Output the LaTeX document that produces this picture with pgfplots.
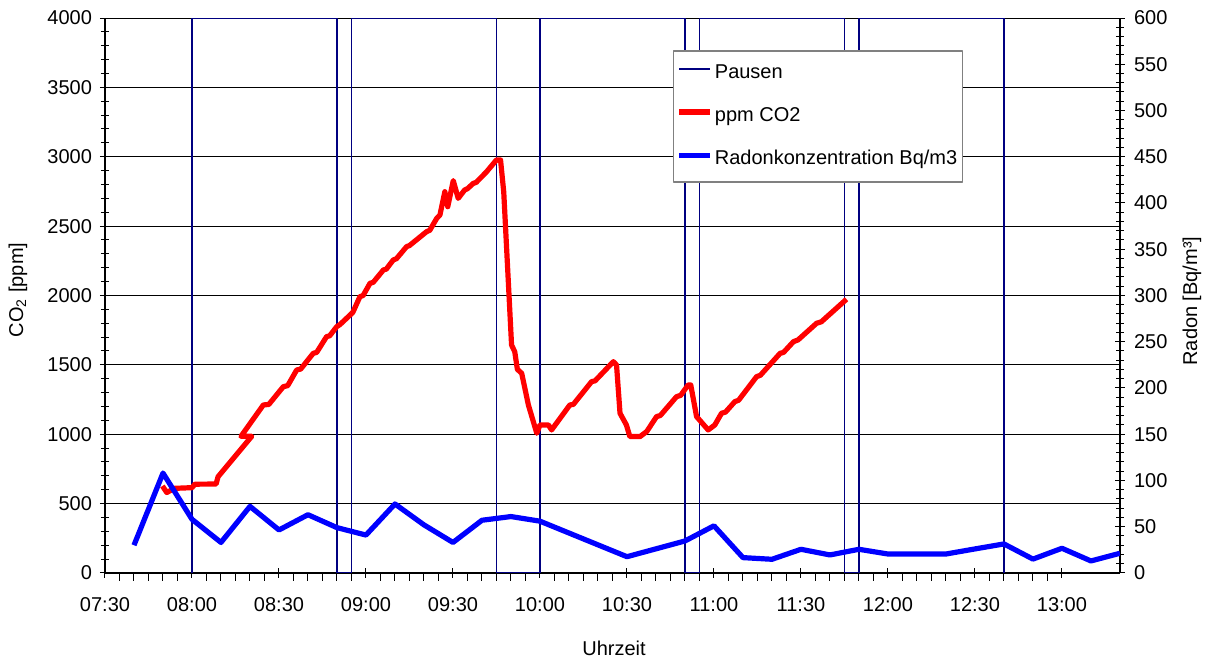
\documentclass[border=0pt]{standalone}
\usepackage{fontspec}
\setmainfont{Liberation Sans}
\usepackage{pgfplots}
\pgfplotsset{compat=1.18}
\definecolor{navy}{RGB}{0,0,128}
\begin{document}
\fontsize{10}{12}\selectfont
\begin{tikzpicture}
\path (-52.5pt,-43.5pt) rectangle (551.5pt,286.5pt);
\begin{axis}[
  at={(0,0)}, anchor=south west,
  scale only axis, width=507.5pt, height=277.5pt,
  xmin=0, xmax=350, ymin=0, ymax=4000,
  axis x line*=bottom, axis y line*=left,
  axis line style={black, line width=0.75pt},
  xtick={0,30,...,330},
  xticklabels={07:30,08:00,08:30,09:00,09:30,10:00,10:30,11:00,11:30,12:00,12:30,13:00},
  minor x tick num=5,
  ytick distance=500, minor y tick num=4,
  ymajorgrids, major grid style={black, line width=0.5pt},
  tick align=center, major tick length=5pt, minor tick length=4pt,
  tick style={black, line width=0.5pt},
  minor x tick style={yshift=-2pt},
  /pgf/number format/assume math mode=true,
  /pgf/number format/1000 sep={},
  yticklabel style={font=\fontsize{10}{12}\selectfont, xshift=-0.5pt},
  xticklabel style={font=\fontsize{10}{12}\selectfont, yshift=-6pt},
  xlabel={Uhrzeit}, ylabel={CO\textsubscript{2} [ppm]},
  xlabel style={at={(axis description cs:0.5015,-0.135)}, anchor=center},
  ylabel style={at={(axis description cs:-0.0857,0.51)}, anchor=center},
  line join=round,
]
\addplot[navy, line width=0.9pt] coordinates {
(30,0)(30,4000)(80,4000)(80,0)(85,0)(85,4000)(135,4000)(135,0)(150,0)(150,4000)
(200,4000)(200,0)(205,0)(205,4000)(255,4000)(255,0)(260,0)(260,4000)(310,4000)(310,0)};
\addplot[red, line width=2.6pt] coordinates {
(19.8,627)(21.3,580)(24,610)(30,615)(31,640)(38.3,641)(39,694)(50.6,985)(46.9,985)
(54.6,1211)(56.5,1215)(61.5,1343)(63,1350)(66.1,1463)(67.5,1470)(71.8,1583)(73,1590)
(76.4,1703)(77.5,1710)(79.9,1775)(81,1790)(84.5,1859)(85.5,1880)(87.9,1991)(89,2000)
(91.4,2088)(92.5,2095)(96,2184)(97,2190)(99.4,2256)(100.5,2265)(104,2352)(105,2360)
(110.9,2460)(112,2470)(114.4,2556)
(115.5,2580)(117.2,2748)(118.2,2640)(120.1,2828)(121.8,2700)(124,2760)(125,2770)(127,2808)(128,2815)(131.6,2892)
(135,2977)(136.4,2977)(137.5,2748)(140.2,1643)(141.3,1595)(142.2,1468)(143.7,1439)
(146,1211)(148.9,1007)(150,1067)(152.9,1067)(154,1031)(160.3,1211)(161.5,1215)(167.8,1379)(169,1385)
(175.3,1523)(176.4,1499)(177.6,1151)(179.8,1067)(181,983)(184.5,983)(186.8,1019)
(190.2,1127)(191.5,1135)(197.1,1271)(198.5,1280)(201.1,1355)(202,1355)(204,1127)(208,1031)(210.3,1067)
(212.6,1151)(214,1160)(217.2,1235)(218.5,1245)(224.7,1415)(226,1425)(232.8,1583)(234,1590)(237.4,1667)(239,1680)(245.4,1800)(247,1810)(255.7,1973)};
\end{axis}
\begin{axis}[
  at={(0,0)}, anchor=south west,
  scale only axis, width=507.5pt, height=277.5pt,
  xmin=0, xmax=350, ymin=0, ymax=600,
  axis x line=none, axis y line*=right,
  axis line style={black, line width=0.75pt},
  ytick distance=50, minor y tick num=4,
  tick align=center, major tick length=5pt, minor tick length=4pt,
  tick style={black, line width=0.5pt},
  /pgf/number format/assume math mode=true,
  yticklabel style={font=\fontsize{10}{12}\selectfont, xshift=1pt},
  ylabel={Radon [Bq/m³]},
  ylabel style={at={(axis description cs:1.071,0.49)}, anchor=center},
  line join=round,
  legend style={at={(axis description cs:0.5596,0.9423)}, anchor=north west,
    draw=gray, line width=0.75pt, fill=white, row sep=11pt,
    inner xsep=1.5pt, inner ysep=6pt,
    nodes={inner xsep=1pt, inner ysep=1pt, font=\fontsize{10}{12}\selectfont}},
  legend cell align=left,
  legend image code/.code={\draw[#1] (0pt,2pt) -- (15.5pt,2pt);},
]
\addlegendimage{navy, line width=0.75pt}
\addlegendentry{Pausen}
\addlegendimage{red, line width=2.6pt}
\addlegendentry{ppm CO2}
\addplot[blue, line width=2.6pt] coordinates {
(10,30)(20,108)(30,58)(40,33)(50,72)(60,46.5)(70,63)(80,49)(90,41)(100,74.6)
(110,52)(120,33)(130,57)(140,61)(150,56)(180,17.6)(200,34.6)(210,51)(220,16.6)
(230,14.8)(240,25.6)(250,19.5)(260,25.6)(270,20.5)(280,20.5)(290,20.5)(300,26)
(310,31.4)(320,15)(330,26.7)(340,13)(350,21.3)};
\addlegendentry{Radonkonzentration Bq/m3}
\end{axis}
\end{tikzpicture}
\end{document}
